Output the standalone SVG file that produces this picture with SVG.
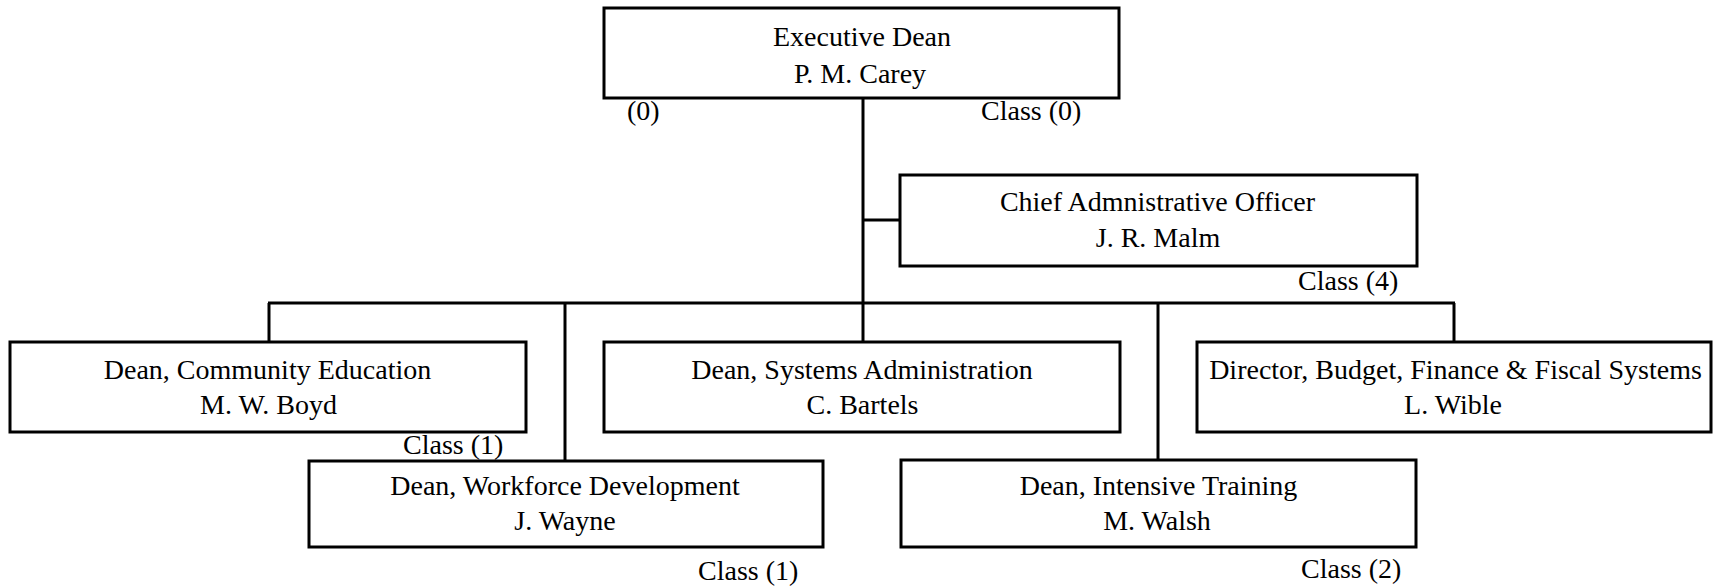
<svg xmlns="http://www.w3.org/2000/svg" width="1713" height="586" viewBox="0 0 1713 586">
<style>
.box{fill:#fff;stroke:#000;stroke-width:3}
.ln{fill:none;stroke:#000;stroke-width:3}
text{font-family:"Liberation Serif","Times New Roman",serif;font-size:28px;fill:#000}
.c{text-anchor:middle}
</style>
<rect width="1713" height="586" fill="#fff"/>
<g id="connectors">
<line class="ln" x1="863" y1="98" x2="863" y2="303"/>
<line class="ln" x1="863" y1="220" x2="900" y2="220"/>
<line class="ln" x1="268" y1="303" x2="1455" y2="303"/>
<line class="ln" x1="269" y1="303" x2="269" y2="342"/>
<line class="ln" x1="565" y1="303" x2="565" y2="461"/>
<line class="ln" x1="863" y1="303" x2="863" y2="342"/>
<line class="ln" x1="1158" y1="303" x2="1158" y2="461"/>
<line class="ln" x1="1454" y1="303" x2="1454" y2="342"/>
</g>
<g id="executive-dean">
<rect class="box" x="604" y="8" width="515" height="90"/>
<text class="c" x="862" y="46">Executive Dean</text>
<text class="c" x="860" y="83">P. M. Carey</text>
<text x="627" y="120">(0)</text>
<text x="981" y="120">Class (0)</text>
</g>
<g id="chief-admin">
<rect class="box" x="900" y="175" width="517" height="91"/>
<text class="c" x="1157.5" y="211">Chief Admnistrative Officer</text>
<text class="c" x="1158" y="247">J. R. Malm</text>
<text x="1298" y="290">Class (4)</text>
</g>
<g id="community-education">
<rect class="box" x="10" y="342" width="516" height="90"/>
<text class="c" x="267.5" y="379">Dean, Community Education</text>
<text class="c" x="268.5" y="414">M. W. Boyd</text>
<text x="403" y="454">Class (1)</text>
</g>
<g id="systems-admin">
<rect class="box" x="604" y="342" width="516" height="90"/>
<text class="c" x="862" y="379">Dean, Systems Administration</text>
<text class="c" x="862.5" y="414">C. Bartels</text>
</g>
<g id="director-budget">
<rect class="box" x="1197" y="342" width="514" height="90"/>
<text class="c" x="1455.5" y="379">Director, Budget, Finance &amp; Fiscal Systems</text>
<text class="c" x="1453" y="414">L. Wible</text>
</g>
<g id="workforce-development">
<rect class="box" x="309" y="461" width="514" height="86"/>
<text class="c" x="565" y="495">Dean, Workforce Development</text>
<text class="c" x="565" y="530">J. Wayne</text>
<text x="698" y="580">Class (1)</text>
</g>
<g id="intensive-training">
<rect class="box" x="901" y="460" width="515" height="87"/>
<text class="c" x="1158.5" y="495">Dean, Intensive Training</text>
<text class="c" x="1157" y="530">M. Walsh</text>
<text x="1301" y="578">Class (2)</text>
</g>
</svg>
